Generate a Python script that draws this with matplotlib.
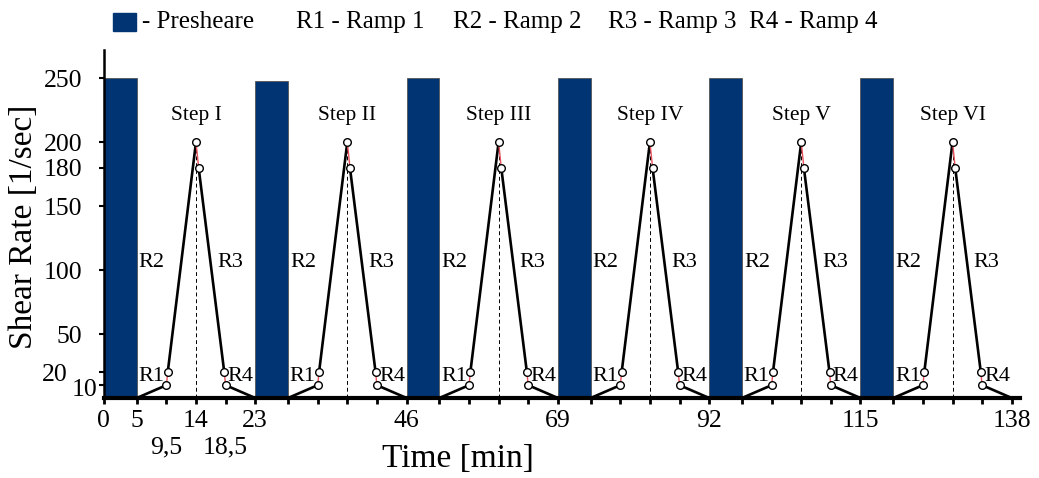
import matplotlib
matplotlib.use("Agg")
import matplotlib.pyplot as plt
import matplotlib.transforms as mtransforms
from matplotlib.patches import Rectangle

plt.rcParams['font.family'] = ['Liberation Serif', 'DejaVu Serif']

# protocol data
step_starts = [0, 23, 46, 69, 92, 115]
step_names = ['Step I', 'Step II', 'Step III', 'Step IV', 'Step V', 'Step VI']
preshear_len = 5
preshear_rate = [250, 248, 250, 250, 250, 250]

# one step profile, time relative to step start
profile_t = [5, 9.5, 9.7, 14, 14.4, 18.3, 18.5, 23]
profile_rate = [0, 10, 20, 200, 180, 20, 10, 0]
peak_t = 14

major_ticks = [0, 5, 14, 23, 46, 69, 92, 115, 138]
minor_offsets = [5, 9.5, 14, 18.5]
second_row = {9.5: '9,5', 18.5: '18,5'}
y_ticks = [10, 20, 50, 100, 150, 180, 200, 250]

navy = '#003473'

fig = plt.figure(figsize=(10.39, 4.78), dpi=100)
ax = fig.add_axes([0.100, 0.1674, 0.882, 0.728])

# preshear bars
ax.bar(step_starts, preshear_rate, width=preshear_len, align='edge',
       color=navy, edgecolor='#555555', linewidth=0.6, zorder=2)

for s, name in zip(step_starts, step_names):
    t = [s + v for v in profile_t]
    r = profile_rate
    # black ramps, red short links
    for i in range(len(t) - 1):
        if i in (1, 3, 5):
            ax.plot(t[i:i + 2], r[i:i + 2], color='#e8505a', lw=1.0, zorder=3)
        else:
            ax.plot(t[i:i + 2], r[i:i + 2], color='black', lw=1.9, zorder=3)
    ax.plot(t[1:-1], r[1:-1], linestyle='none', marker='o', ms=5.5, mfc='white',
            mec='black', mew=1.0, zorder=4)
    ax.plot([s + peak_t, s + peak_t], [0, 200], color='black', lw=0.7,
            dashes=(4, 3), zorder=1)

    ax.text(s + peak_t, 221, name, ha='center', va='center', fontsize=15.5)
    ax.text(s + 5.3, 106, 'R2', ha='left', va='center', fontsize=16)
    ax.text(s + 17.2, 106, 'R3', ha='left', va='center', fontsize=16)
    ax.text(s + 9.2, 17, 'R1', ha='right', va='center', fontsize=16)
    ax.text(s + 18.8, 17, 'R4', ha='left', va='center', fontsize=16)

ax.set_xlim(0, 139.3)
ax.set_ylim(0, 272)

for side in ('top', 'right'):
    ax.spines[side].set_visible(False)
ax.spines['bottom'].set_linewidth(3)
ax.spines['left'].set_linewidth(1.8)

ax.set_xticks(major_ticks)
ax.set_xticklabels([str(v) for v in major_ticks], fontsize=18.5)
minor = sorted({s + o for s in step_starts for o in minor_offsets})
minor = [m for m in minor if m not in major_ticks]
ax.set_xticks(minor, minor=True)
ax.set_xticklabels([second_row.get(m, '') for m in minor], minor=True, fontsize=18.5)
ax.tick_params(axis='x', which='both', length=4, width=2, direction='out')
ax.tick_params(axis='x', which='major', pad=5)
ax.tick_params(axis='x', which='minor', pad=24)

ax.set_yticks(y_ticks)
ax.set_yticklabels([str(v) for v in y_ticks], fontsize=18.5)
ax.tick_params(axis='y', length=3.5, width=1.5, pad=12)
for lab in ax.get_yticklabels():
    if lab.get_text() == '20':
        lab.set_transform(lab.get_transform() +
                          mtransforms.ScaledTranslation(-0.15, 0.0, fig.dpi_scale_trans))
    elif lab.get_text() == '10':
        lab.set_transform(lab.get_transform() +
                          mtransforms.ScaledTranslation(0.15, -0.02, fig.dpi_scale_trans))

fig.text(24 / 1039, 1 - 227 / 478, 'Shear Rate [1/sec]', rotation=90,
         ha='center', va='center', fontsize=24)
fig.text(458 / 1039, 1 - 459 / 478, 'Time [min]', ha='center', va='center', fontsize=24)

# legend row on top
fig.patches.append(Rectangle((113 / 1039, 1 - 31 / 478), 23 / 1039, 18 / 478,
                             transform=fig.transFigure, color=navy))
legend_items = [(142, '- Presheare'), (296, 'R1 - Ramp 1'), (453, 'R2 - Ramp 2'),
                (608, 'R3 - Ramp 3'), (749, 'R4 - Ramp 4')]
for x, txt in legend_items:
    fig.text(x / 1039, 1 - 22 / 478, txt, ha='left', va='center', fontsize=18)

fig.savefig('out.png', dpi=100)
